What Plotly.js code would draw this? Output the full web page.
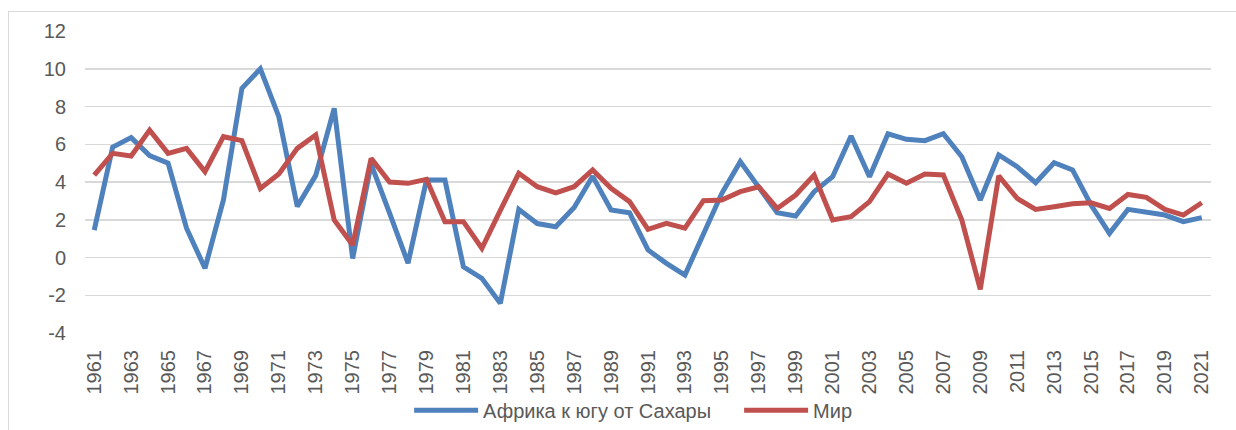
<!DOCTYPE html>
<html>
<head>
<meta charset="utf-8">
<script src="https://cdn.plot.ly/plotly-3.0.1.min.js"></script>
<style>
html,body{margin:0;padding:0;background:#fff;}
#wrap{position:relative;width:1236px;height:430px;overflow:hidden;}
#chart{position:absolute;left:0;top:0;width:1236px;height:430px;}
#frame{position:absolute;left:8px;top:11px;width:1260px;height:460px;border:1.5px solid #d9d9d9;pointer-events:none;}
</style>
</head>
<body>
<div id="wrap"><div id="chart"></div><div id="frame"></div></div>
<script>
const years = ['1961','1962','1963','1964','1965','1966','1967','1968','1969','1970',
  '1971','1972','1973','1974','1975','1976','1977','1978','1979','1980',
  '1981','1982','1983','1984','1985','1986','1987','1988','1989','1990',
  '1991','1992','1993','1994','1995','1996','1997','1998','1999','2000',
  '2001','2002','2003','2004','2005','2006','2007','2008','2009','2010',
  '2011','2012','2013','2014','2015','2016','2017','2018','2019','2020','2021'];

const africa = [1.45, 5.85, 6.35, 5.4, 5.0, 1.55, -0.57, 3.05, 8.96, 10.0,
  7.46, 2.7, 4.35, 7.9, -0.05, 4.95, 2.35, -0.3, 4.1, 4.1,
  -0.49, -1.1, -2.43, 2.55, 1.8, 1.63, 2.65, 4.3, 2.52, 2.37,
  0.4, -0.31, -0.93, 1.3, 3.4, 5.08, 3.75, 2.37, 2.2, 3.49,
  4.28, 6.44, 4.28, 6.55, 6.26, 6.19, 6.56, 5.34, 3.05, 5.43,
  4.81, 3.96, 5.02, 4.64, 2.78, 1.28, 2.55, 2.43, 2.25, 1.9, 2.11];

const world = [4.37, 5.52, 5.38, 6.75, 5.52, 5.78, 4.55, 6.4, 6.19, 3.66,
  4.42, 5.78, 6.49, 1.99, 0.66, 5.25, 4.0, 3.93, 4.14, 1.9,
  1.9, 0.49, 2.5, 4.46, 3.75, 3.43, 3.75, 4.64, 3.67, 2.96,
  1.49, 1.81, 1.55, 3.01, 3.05, 3.49, 3.75, 2.6, 3.31, 4.37,
  1.99, 2.16, 2.96, 4.42, 3.93, 4.42, 4.37, 1.99, -1.69, 4.32,
  3.13, 2.55, 2.69, 2.85, 2.9, 2.6, 3.34, 3.19, 2.55, 2.25, 2.9];

const xTicks = ['1961','1963','1965','1967','1969','1971','1973','1975','1977','1979',
  '1981','1983','1985','1987','1989','1991','1993','1995','1997','1999',
  '2001','2003','2005','2007','2009','2011','2013','2015','2017','2019','2021'];

const seriesNames = ['Африка к югу от Сахары', 'Мир'];
const yTicks = [-4, -2, 0, 2, 4, 6, 8, 10, 12];
const yTickText = ['-4', '-2', '0', '2', '4', '6', '8', '10', '12'];

const traces = [
  {x: years, y: africa, name: seriesNames[0], type: 'scatter', mode: 'lines',
   line: {color: '#4F81BD', width: 5, shape: 'linear'}},
  {x: years, y: world, name: seriesNames[1], type: 'scatter', mode: 'lines',
   line: {color: '#C0504D', width: 5, shape: 'linear'}}
];

const layout = {
  width: 1236, height: 430,
  margin: {l: 85, r: 25, t: 31, b: 97},
  paper_bgcolor: '#ffffff', plot_bgcolor: '#ffffff',
  font: {family: '"Liberation Sans", Arial, sans-serif', color: '#595959', size: 20},
  showlegend: true,
  legend: {orientation: 'h', xref: 'container', yref: 'container',
    x: 0.331, xanchor: 'left', y: 0.046, yanchor: 'middle',
    font: {size: 20, color: '#595959'}, itemwidth: 64, tracegroupgap: 0,
    entrywidth: 251, entrywidthmode: 'pixels',
    bgcolor: 'rgba(0,0,0,0)'},
  xaxis: {type: 'category', categoryorder: 'array', categoryarray: years,
    range: [-0.5, 60.5], tickmode: 'array', tickvals: xTicks, ticktext: xTicks,
    tickangle: -90, tickfont: {size: 20, color: '#595959'}, showgrid: false,
    showline: false, zeroline: false, ticks: '', ticklabelstandoff: 12,
    automargin: false, fixedrange: true},
  yaxis: {range: [-4, 12], tickmode: 'array', tickvals: yTicks, ticktext: yTickText,
    tickfont: {size: 20, color: '#595959'}, showgrid: true, gridcolor: '#d9d9d9', gridwidth: 1.5,
    zeroline: true, zerolinecolor: '#d9d9d9', zerolinewidth: 1.5, showline: false, ticks: '',
    ticklabelstandoff: 18, automargin: false, fixedrange: true}
};

Plotly.newPlot('chart', traces, layout, {displayModeBar: false, staticPlot: true});
</script>
</body>
</html>
